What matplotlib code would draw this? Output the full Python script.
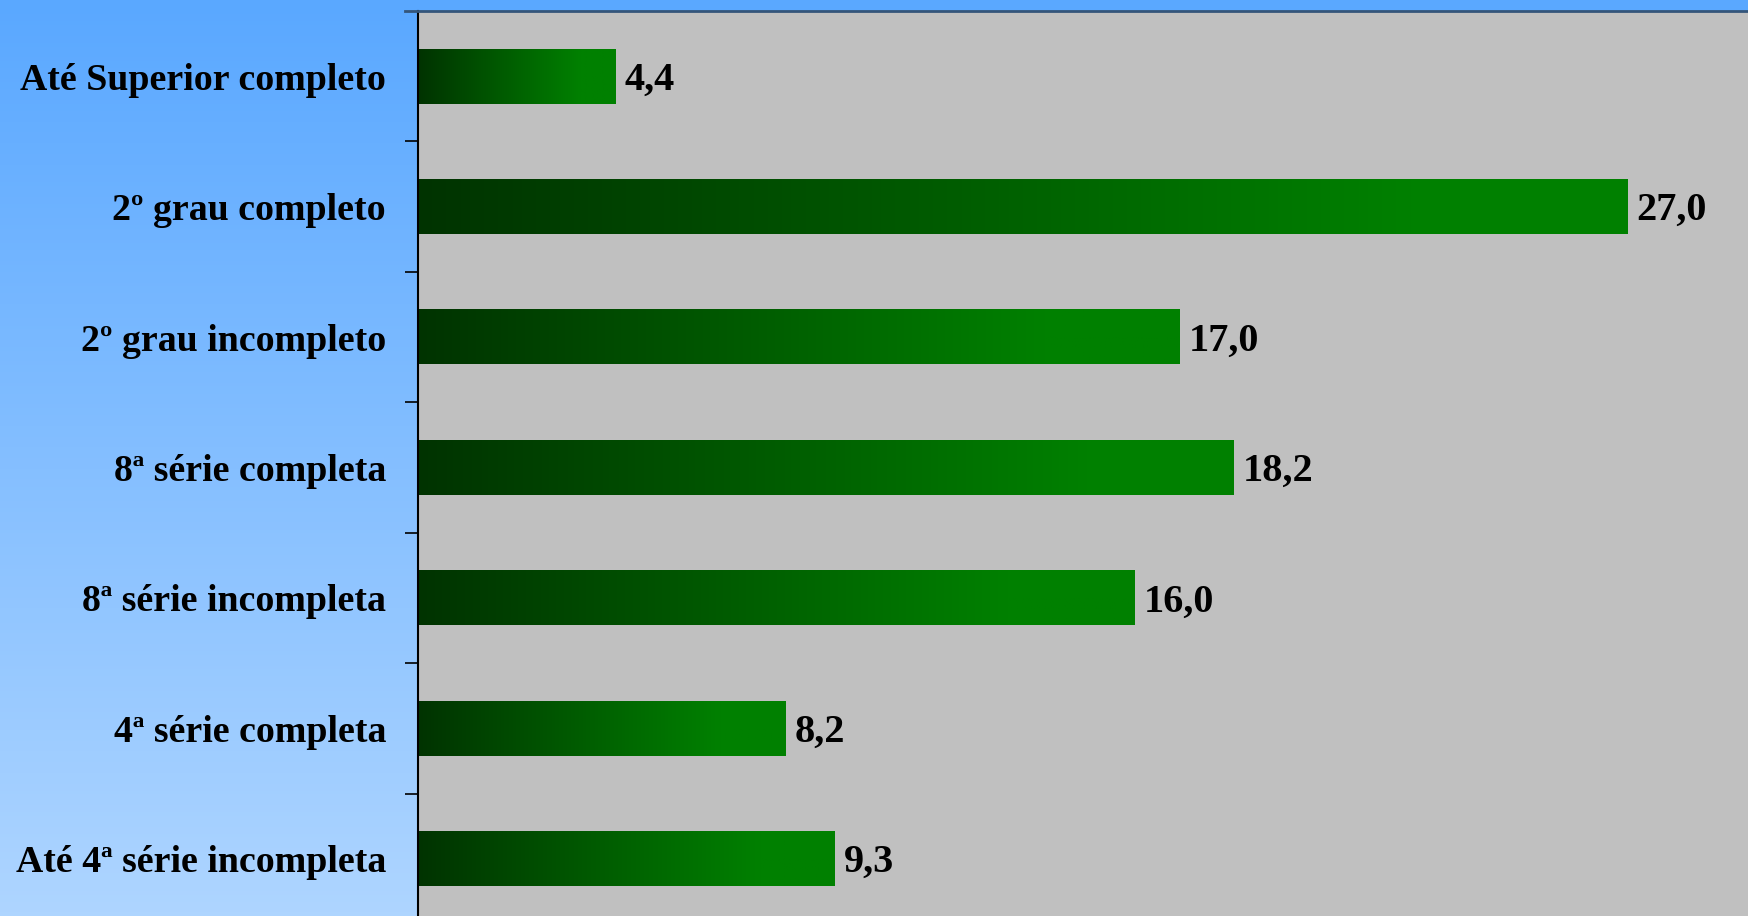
import matplotlib.pyplot as plt
import numpy as np
from matplotlib.colors import LinearSegmentedColormap

categorias = ['Até Superior completo', '2º grau completo', '2º grau incompleto',
              '8ª série completa', '8ª série incompleta', '4ª série completa',
              'Até 4ª série incompleta']
valores = [4.4, 27.0, 17.0, 18.2, 16.0, 8.2, 9.3]
rotulos = ['4,4', '27,0', '17,0', '18,2', '16,0', '8,2', '9,3']

W, H = 1749, 916
fig = plt.figure(figsize=(W / 100., H / 100.), dpi=100)

# fundo em degrade azul
bg = fig.add_axes([0, 0, 1, 1], zorder=-10)
grad = np.linspace(0, 1, 256).reshape(-1, 1)
bg_cmap = LinearSegmentedColormap.from_list('fundo', ['#5aa8ff', '#aed5ff'])
bg.imshow(grad, aspect='auto', cmap=bg_cmap, extent=[0, 1, 0, 1], origin='upper')
bg.set_axis_off()

ax = fig.add_axes([418. / W, -8. / H, 1 - 418. / W, (916. - 11. + 8.) / H])
ax.set_facecolor('#c0c0c0')

n = len(categorias)
ys = np.arange(n)[::-1]
bar_h = 0.42
xmax = 29.71

bar_cmap = LinearSegmentedColormap.from_list('barra', [(0, '#003300'), (0.82, '#008000'), (1, '#008000')])
ramp = np.linspace(0, 1, 256).reshape(1, -1)
for y, v, lab in zip(ys, valores, rotulos):
    ax.barh(y, v, height=bar_h, color='none', edgecolor='none')
    ax.imshow(ramp, aspect='auto', cmap=bar_cmap,
              extent=[0, v, y - bar_h / 2, y + bar_h / 2], zorder=2)
    ax.text(v + 0.2, y - 0.03, lab, va='center', ha='left', fontsize=29,
            fontweight='bold', family='Liberation Serif', color='black')

ax.set_xlim(0, xmax)
ax.set_ylim(-0.5, n - 0.5)
ax.set_yticks(ys)
ax.set_yticklabels(categorias, fontsize=27.3, fontweight='bold', family='Liberation Serif')
ax.set_yticks(np.arange(n - 1) + 0.5, minor=True)
ax.tick_params(axis='y', which='major', length=0, pad=23)
ax.tick_params(axis='y', which='minor', length=9.4, width=1.2, color='black')
ax.set_xticks([])

ax.spines['right'].set_visible(False)
ax.spines['bottom'].set_visible(False)
ax.spines['left'].set_color('black')
ax.spines['left'].set_linewidth(1.5)
ax.spines['top'].set_visible(False)

# linha superior (estende-se para fora do eixo, como um tique)
fig.add_artist(plt.Line2D([405. / W, 1], [1 - 11. / H, 1 - 11. / H],
                          transform=fig.transFigure, color='#34557a', linewidth=2))

fig.savefig('out.png', dpi=100)
